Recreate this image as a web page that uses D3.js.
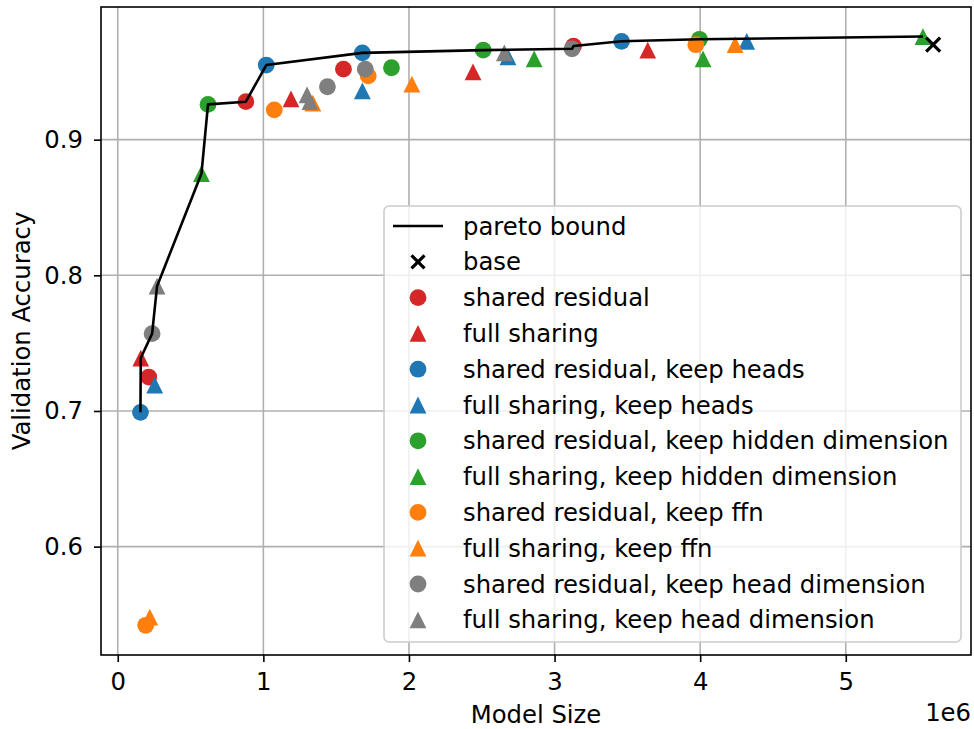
<!DOCTYPE html>
<html>
<head>
<meta charset="utf-8">
<script src="https://cdn.jsdelivr.net/npm/d3@7"></script>
<style>
  body { margin: 0; background: #fff; }
  svg { font-family: "DejaVu Sans", sans-serif; }
</style>
</head>
<body>
<svg id="chart" width="974" height="729"></svg>
<script>
// series values (model size in millions, validation accuracy)
const seriesNames = [
  "shared residual", "full sharing",
  "shared residual, keep heads", "full sharing, keep heads",
  "shared residual, keep hidden dimension", "full sharing, keep hidden dimension",
  "shared residual, keep ffn", "full sharing, keep ffn",
  "shared residual, keep head dimension", "full sharing, keep head dimension"
];
const seriesColors = ["#d62728", "#d62728", "#1f77b4", "#1f77b4", "#2ca02c", "#2ca02c",
                      "#ff7f0e", "#ff7f0e", "#7f7f7f", "#7f7f7f"];
const seriesShapes = ["circle", "triangle", "circle", "triangle", "circle", "triangle",
                      "circle", "triangle", "circle", "triangle"];

const sizes = [
  [0.213, 0.88, 1.55, 3.13],
  [0.158, 1.19, 2.44, 3.64],
  [0.156, 1.02, 1.68, 3.46],
  [0.254, 1.68, 2.68, 4.32],
  [0.62, 1.88, 2.51, 3.995],
  [0.575, 2.86, 4.02, 5.53],
  [0.192, 1.075, 1.72, 3.97],
  [0.22, 1.34, 2.02, 4.24],
  [0.236, 1.44, 1.70, 3.12],
  [0.27, 1.30, 1.32, 2.655]
];
const accuracies = [
  [0.725, 0.928, 0.952, 0.969],
  [0.739, 0.930, 0.950, 0.966],
  [0.699, 0.955, 0.964, 0.9725],
  [0.719, 0.936, 0.961, 0.9725],
  [0.926, 0.953, 0.966, 0.974],
  [0.875, 0.9596, 0.9596, 0.976],
  [0.542, 0.922, 0.947, 0.970],
  [0.548, 0.927, 0.941, 0.970],
  [0.757, 0.939, 0.952, 0.967],
  [0.792, 0.933, 0.928, 0.964]
];
const baseSize = 5.60;
const baseAcc = 0.970;

const xTicks = [0, 1, 2, 3, 4, 5];
const yTicks = [0.6, 0.7, 0.8, 0.9];

const svg = d3.select("#chart");
const mLeft = 101, mRight = 971, mTop = 7, mBottom = 655;
const fs = "24.3px";

const x = d3.scaleLinear().domain([-0.115, 5.86]).range([mLeft, mRight]);
const y = d3.scaleLinear().domain([0.5201, 0.9978]).range([mBottom, mTop]);

// grid
const grid = svg.append("g").attr("stroke", "#b0b0b0").attr("stroke-width", 1.6);
xTicks.forEach(t => grid.append("line")
  .attr("x1", x(t)).attr("x2", x(t)).attr("y1", mTop).attr("y2", mBottom));
yTicks.forEach(t => grid.append("line")
  .attr("x1", mLeft).attr("x2", mRight).attr("y1", y(t)).attr("y2", y(t)));

// axes
const xAxis = svg.append("g")
  .attr("transform", `translate(0,${mBottom})`)
  .call(d3.axisBottom(x).tickValues(xTicks).tickFormat(d3.format("d")).tickSize(7).tickPadding(11));
const yAxis = svg.append("g")
  .attr("transform", `translate(${mLeft},0)`)
  .call(d3.axisLeft(y).tickValues(yTicks).tickFormat(d3.format(".1f")).tickSize(7).tickPadding(11));
[xAxis, yAxis].forEach(a => {
  a.select(".domain").remove();
  a.selectAll(".tick line").attr("stroke", "#000").attr("stroke-width", 1.6);
  a.selectAll(".tick text").attr("fill", "#000")
    .style("font-family", "DejaVu Sans").style("font-size", fs);
});

// points
const triPath = r => `M0,${-r}L${r},${r}L${-r},${r}Z`;
const pts = svg.append("g");
seriesNames.forEach((name, i) => {
  sizes[i].forEach((s, j) => {
    const cx = x(s), cy = y(accuracies[i][j]);
    if (seriesShapes[i] === "circle") {
      pts.append("circle").attr("cx", cx).attr("cy", cy).attr("r", 8.4)
        .attr("fill", seriesColors[i]);
    } else {
      pts.append("path").attr("d", triPath(8.4))
        .attr("transform", `translate(${cx},${cy})`)
        .attr("fill", seriesColors[i]);
    }
  });
});

// base marker
const xMark = r => `M${-r},${-r}L${r},${r}M${-r},${r}L${r},${-r}`;
pts.append("path").attr("d", xMark(7))
  .attr("transform", `translate(${x(baseSize)},${y(baseAcc)})`)
  .attr("stroke", "#000").attr("stroke-width", 3.2).attr("fill", "none");

// pareto bound from all series points
const all = [];
sizes.forEach((arr, i) => arr.forEach((s, j) => all.push([s, accuracies[i][j]])));
all.sort((a, b) => a[0] - b[0]);
const pareto = [];
let best = -Infinity;
all.forEach(p => { if (p[1] > best) { pareto.push(p); best = p[1]; } });

svg.append("path")
  .datum(pareto)
  .attr("d", d3.line().x(d => x(d[0])).y(d => y(d[1])))
  .attr("fill", "none").attr("stroke", "#000").attr("stroke-width", 2.6)
  .attr("stroke-linejoin", "round");

// frame
svg.append("rect").attr("x", mLeft).attr("y", mTop)
  .attr("width", mRight - mLeft).attr("height", mBottom - mTop)
  .attr("fill", "none").attr("stroke", "#000").attr("stroke-width", 1.6);

// labels
svg.append("text").attr("x", (mLeft + mRight) / 2).attr("y", 723)
  .attr("text-anchor", "middle").style("font-size", fs).text("Model Size");
svg.append("text").attr("x", mRight).attr("y", 721)
  .attr("text-anchor", "end").style("font-size", fs).text("1e6");
svg.append("text")
  .attr("transform", `translate(30,${(mTop + mBottom) / 2}) rotate(-90)`)
  .attr("text-anchor", "middle").style("font-size", fs).text("Validation Accuracy");

// legend
const legend = svg.append("g");
legend.append("rect").attr("x", 384).attr("y", 206).attr("width", 577).attr("height", 436)
  .attr("rx", 5).attr("fill", "#fff").attr("fill-opacity", 0.8)
  .attr("stroke", "#cccccc").attr("stroke-width", 1.6);
const rowY = i => 226 + i * 35.8;
const hx = 418, tx = 463;
legend.append("line").attr("x1", 393).attr("x2", 443).attr("y1", rowY(0)).attr("y2", rowY(0))
  .attr("stroke", "#000").attr("stroke-width", 2.6);
legend.append("path").attr("d", xMark(6.5))
  .attr("transform", `translate(${hx},${rowY(1)})`)
  .attr("stroke", "#000").attr("stroke-width", 3.2);
const legendLabels = ["pareto bound", "base"].concat(seriesNames);
seriesNames.forEach((name, i) => {
  const cy = rowY(i + 2);
  if (seriesShapes[i] === "circle") {
    legend.append("circle").attr("cx", hx).attr("cy", cy).attr("r", 8.4).attr("fill", seriesColors[i]);
  } else {
    legend.append("path").attr("d", triPath(8.4))
      .attr("transform", `translate(${hx},${cy})`).attr("fill", seriesColors[i]);
  }
});
legendLabels.forEach((lab, i) => {
  legend.append("text").attr("x", tx).attr("y", rowY(i)).attr("dy", "0.35em")
    .style("font-size", fs).text(lab);
});
</script>
</body>
</html>
